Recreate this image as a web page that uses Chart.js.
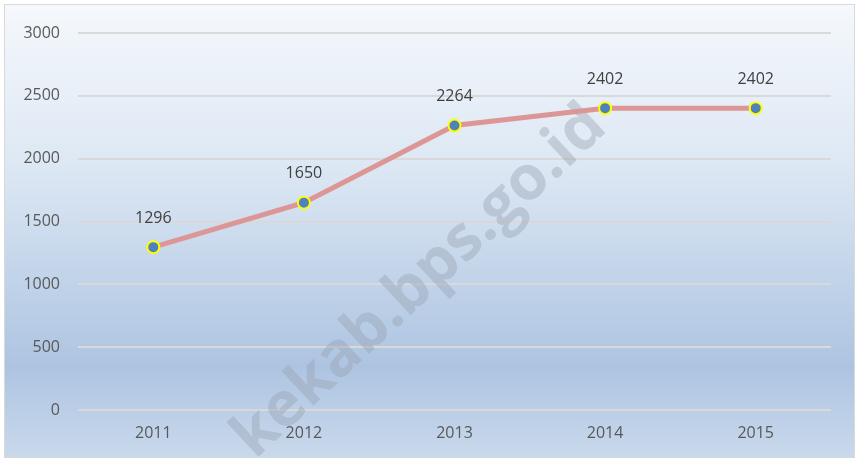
<!DOCTYPE html>
<html>
<head>
<meta charset="utf-8">
<script src="https://cdn.jsdelivr.net/npm/chart.js@4"></script>
<style>
  html, body { margin: 0; padding: 0; background: #fff; }
  #wrap { width: 859px; height: 461px; position: relative; }
</style>
</head>
<body>
<div id="wrap"><canvas id="lineChart"></canvas></div>
<script>
// data
const years = ['2011', '2012', '2013', '2014', '2015'];
const values = [1296, 1650, 2264, 2402, 2402];
const yTicks = [0, 500, 1000, 1500, 2000, 2500, 3000];

const FONT = "'Open Sans', 'Liberation Sans', sans-serif";

// background gradient + frame
const bgPlugin = {
    id: 'bg',
    beforeDraw(chart) {
        const c = chart.ctx;
        const w = chart.width, h = chart.height;
        const g = c.createLinearGradient(0, 5, 0, h - 4);
        g.addColorStop(0, '#f5f8fc');
        g.addColorStop(0.35, '#dde8f4');
        g.addColorStop(0.8, '#adc4e1');
        g.addColorStop(1, '#c9d9ec');
        c.save();
        c.fillStyle = g;
        c.fillRect(5, 5, w - 10, h - 9);
        c.strokeStyle = '#d9d9d9';
        c.lineWidth = 1;
        c.strokeRect(4.5, 4.5, w - 9, h - 8);
        c.restore();
    }
};

// watermark
const watermark = {
    id: 'watermark',
    beforeDatasetsDraw(chart) {
        const c = chart.ctx;
        c.save();
        c.translate(420, 282);
        c.rotate(-43 * Math.PI / 180);
        c.font = "bold 62px " + FONT;
        c.fillStyle = 'rgba(150, 160, 175, 0.4)';
        c.textAlign = 'center';
        c.textBaseline = 'middle';
        c.fillText('kekab.bps.go.id', 0, 0);
        c.restore();
    }
};

// value labels above points
const valueLabels = {
    id: 'valueLabels',
    afterDatasetsDraw(chart) {
        const c = chart.ctx;
        const meta = chart.getDatasetMeta(0);
        c.save();
        c.font = "16px " + FONT;
        c.fillStyle = '#404040';
        c.textAlign = 'center';
        c.textBaseline = 'middle';
        meta.data.forEach((pt, i) => {
            c.fillText(values[i], pt.x, pt.y - 29);
        });
        c.restore();
    }
};

const ctx = document.getElementById('lineChart').getContext('2d');
const lineChart = new Chart(ctx, {
    type: 'line',
    data: {
        labels: years,
        datasets: [{
            data: values,
            borderColor: '#dc9695',
            borderWidth: 5,
            pointBackgroundColor: '#4f81bd',
            pointBorderColor: '#ffff00',
            pointBorderWidth: 2,
            pointRadius: 6,
            fill: false,
            tension: 0
        }]
    },
    options: {
        responsive: true,
        maintainAspectRatio: false,
        animation: false,
        layout: { padding: { top: 33, right: 28, left: 0, bottom: 0 } },
        plugins: {
            legend: { display: false },
            tooltip: { enabled: false }
        },
        scales: {
            x: {
                offset: true,
                grid: { display: false, drawTicks: false },
                border: { display: false },
                ticks: { color: '#595959', font: { family: FONT, size: 16 }, padding: 14 },
                afterFit(s) { s.height = 51; }
            },
            y: {
                min: 0,
                max: 3000,
                afterBuildTicks(s) { s.ticks = yTicks.map(v => ({ value: v })); },
                grid: { color: '#d9d9d9', lineWidth: 2, drawTicks: false },
                border: { display: false },
                ticks: {
                    color: '#595959',
                    font: { family: FONT, size: 16 },
                    padding: 18,
                    callback: v => String(v)
                },
                afterFit(s) { s.width = 78; }
            }
        }
    },
    plugins: [bgPlugin, watermark, valueLabels]
});
</script>
</body>
</html>
